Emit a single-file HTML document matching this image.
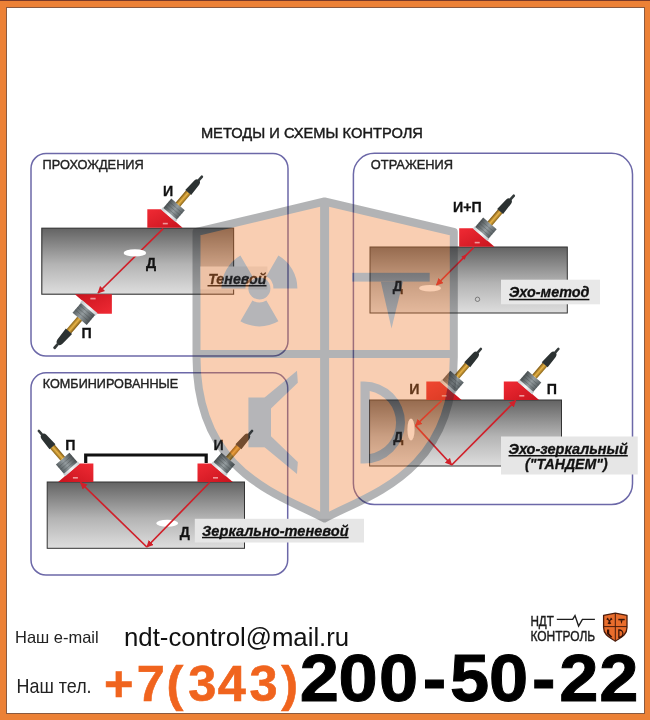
<!DOCTYPE html>
<html><head><meta charset="utf-8">
<style>
html,body{margin:0;padding:0;background:#fff;}
body{width:650px;height:720px;overflow:hidden;position:relative;}
svg{position:absolute;left:0;top:0;display:block;will-change:transform;}
text{font-family:"Liberation Sans",sans-serif;}

</style></head><body>
<svg id="main" width="650" height="720" viewBox="0 0 650 720">
<defs>
  <linearGradient id="bar" x1="0" y1="0" x2="0" y2="1">
    <stop offset="0" stop-color="#636363"/>
    <stop offset="0.55" stop-color="#b4b4b4"/>
    <stop offset="1" stop-color="#dedede"/>
  </linearGradient>
  <linearGradient id="wedgeG" x1="0" y1="0" x2="1" y2="1">
    <stop offset="0" stop-color="#f02a34"/>
    <stop offset="1" stop-color="#c8141e"/>
  </linearGradient>
  <linearGradient id="bodyG" x1="0" y1="0" x2="0" y2="1">
    <stop offset="0" stop-color="#4a5052"/>
    <stop offset="0.55" stop-color="#959da0"/>
    <stop offset="1" stop-color="#586063"/>
  </linearGradient>
  <linearGradient id="brassG" x1="0" y1="0" x2="0" y2="1">
    <stop offset="0" stop-color="#7a5410"/>
    <stop offset="0.5" stop-color="#e8b448"/>
    <stop offset="1" stop-color="#8a6418"/>
  </linearGradient>
  <linearGradient id="plateG" x1="0" y1="0" x2="0" y2="1">
    <stop offset="0" stop-color="#c9cfd2"/>
    <stop offset="0.5" stop-color="#f4f6f7"/>
    <stop offset="1" stop-color="#c0c6c9"/>
  </linearGradient>
  <g id="td">
    <polygon points="0,0 0,-18.5 13.8,-18.5 35.3,0" fill="url(#wedgeG)"/>
    <rect x="15.5" y="-5" width="5" height="1.6" fill="#f6b8b8" opacity="0.8"/>
    <g transform="translate(21.1,-12.2) rotate(-49.3)">
      <rect x="-0.3" y="-9.6" width="3" height="19.2" fill="url(#plateG)"/>
      <rect x="2.5" y="-8.9" width="12.3" height="17.8" fill="url(#bodyG)"/>
      <g stroke="#3a4042" stroke-width="0.5" opacity="0.6">
        <line x1="5" y1="-8.9" x2="5" y2="8.9"/><line x1="8" y1="-8.9" x2="8" y2="8.9"/><line x1="11" y1="-8.9" x2="11" y2="8.9"/>
      </g>
      <rect x="14.7" y="-3" width="16" height="6" fill="url(#brassG)"/>
      <path d="M30.4,-3.9 L43.5,-3.2 Q46.8,-2.8 46.8,0 Q46.8,2.8 43.5,3.2 L30.4,3.9 Z" fill="#2c3232"/>
      <rect x="46" y="-1.3" width="6.5" height="2.6" rx="1" fill="#343a3a"/>
    </g>
  </g>
  <marker id="arr" viewBox="0 0 10 10" refX="9" refY="5" markerWidth="4.2" markerHeight="4.2" orient="auto-start-reverse">
    <path d="M0,0 L10,5 L0,10 z" fill="#d0202a"/>
  </marker>
</defs>

<!-- frame -->
<rect x="0" y="0" width="650" height="720" fill="#ec8136"/>
<rect x="0" y="0" width="650" height="1" fill="#7a3a28"/>
<rect x="6" y="7" width="639" height="707" fill="#8a5a40"/>
<rect x="7" y="8" width="637" height="705" fill="#ffffff"/>

<!-- title -->
<text x="200.9" y="138.3" font-size="15.4" fill="#1a1a1a" stroke="#1a1a1a" stroke-width="0.45" textLength="222" lengthAdjust="spacingAndGlyphs">МЕТОДЫ И СХЕМЫ КОНТРОЛЯ</text>

<!-- panels -->
<g fill="none" stroke="#6c68a8" stroke-width="1.5">
  <rect x="31" y="153.5" width="257" height="202.5" rx="15" ry="15"/>
  <rect x="353.4" y="153.3" width="279.1" height="351.2" rx="21" ry="21"/>
  <rect x="31" y="372.8" width="256.7" height="202.2" rx="15" ry="15"/>
</g>
<g fill="#222" stroke="#222" stroke-width="0.4" font-size="13.4">
  <text x="42.6" y="169.3" textLength="101.2" lengthAdjust="spacingAndGlyphs">ПРОХОЖДЕНИЯ</text>
  <text x="370.8" y="169.2" textLength="82.3" lengthAdjust="spacingAndGlyphs">ОТРАЖЕНИЯ</text>
  <text x="42.8" y="388.4" textLength="135.4" lengthAdjust="spacingAndGlyphs">КОМБИНИРОВАННЫЕ</text>
</g>

<!-- ===== Panel 1 ===== -->
<rect x="41.8" y="228.2" width="191.8" height="66" fill="url(#bar)" stroke="#333" stroke-width="1.1"/>
<line x1="163.2" y1="228.6" x2="98" y2="293" stroke="#d0202a" stroke-width="1.7" marker-end="url(#arr)"/>
<ellipse cx="134.9" cy="252.9" rx="11.3" ry="3.6" fill="#fff"/>
<use href="#td" transform="translate(147.3,227.8)"/>
<use href="#td" transform="translate(111.9,294.2) rotate(180) scale(1.05)"/>
<rect x="200" y="266.5" width="67.4" height="23" fill="#ececec"/>
<g font-weight="bold" font-size="14.2" fill="#111" stroke="#111" stroke-width="0.3">
  <text x="162.9" y="195.8">И</text>
  <text x="81.6" y="338.3">П</text>
  <text x="146" y="267.5">Д</text>
</g>
<text x="208.2" y="283.5" font-size="14" font-weight="bold" font-style="italic" fill="#111" stroke="#111" stroke-width="0.3" textLength="58.3" lengthAdjust="spacingAndGlyphs">Теневой</text>
<rect x="207.5" y="285" width="59" height="1.5" fill="#111"/>

<!-- ===== Panel 2 top ===== -->
<rect x="370" y="247" width="197.3" height="66" fill="url(#bar)" stroke="#333" stroke-width="1"/>
<ellipse cx="430" cy="288.2" rx="11" ry="3.3" fill="#fff"/>
<circle cx="477.5" cy="299.3" r="2.2" fill="none" stroke="#666" stroke-width="0.8"/>
<line x1="473.7" y1="247.5" x2="436.5" y2="285" stroke="#d0202a" stroke-width="1.7" marker-end="url(#arr)"/>
<polygon points="467,254.2 464.6,259.8 461.3,256.5" fill="#d0202a"/>
<use href="#td" transform="translate(459.2,246.8)"/>
<g font-weight="bold" font-size="14.2" fill="#111" stroke="#111" stroke-width="0.3">
  <text x="453.1" y="212.3" textLength="28.6" lengthAdjust="spacingAndGlyphs">И+П</text>
  <text x="392.8" y="290.5">Д</text>
</g>
<rect x="501" y="279.7" width="99" height="24.6" fill="#e8e8e8"/>
<text x="509" y="297" font-size="14" font-weight="bold" font-style="italic" fill="#111" stroke="#111" stroke-width="0.3" textLength="80.4" lengthAdjust="spacingAndGlyphs">Эхо-метод</text>
<rect x="509" y="298.8" width="80.4" height="1.5" fill="#111"/>

<!-- ===== Panel 2 bottom ===== -->
<rect x="369.6" y="400" width="191.9" height="66" fill="url(#bar)" stroke="#333" stroke-width="1"/>
<ellipse cx="411" cy="429.4" rx="3.6" ry="11" fill="#fff"/>
<polyline points="441.8,400.5 415.5,425.7" fill="none" stroke="#d0202a" stroke-width="1.7" marker-end="url(#arr)"/>
<polyline points="415.5,425.7 451.7,465" fill="none" stroke="#d0202a" stroke-width="1.7" marker-end="url(#arr)"/>
<polyline points="451.7,465 515.7,400.5" fill="none" stroke="#d0202a" stroke-width="1.7" marker-end="url(#arr)"/>
<use href="#td" transform="translate(426.3,400)"/>
<use href="#td" transform="translate(503.8,400)"/>
<g font-weight="bold" font-size="14.2" fill="#111" stroke="#111" stroke-width="0.3">
  <text x="409.3" y="394">И</text>
  <text x="546.8" y="394">П</text>
  <text x="393.2" y="441.8">Д</text>
</g>
<rect x="501" y="436.5" width="136.7" height="38" fill="#e6e6e6"/>
<text x="508.5" y="453.8" font-size="14" font-weight="bold" font-style="italic" fill="#111" stroke="#111" stroke-width="0.3" textLength="119.3" lengthAdjust="spacingAndGlyphs">Эхо-зеркальный</text>
<rect x="508.5" y="455" width="119.3" height="1.5" fill="#111"/>
<text x="525" y="469.3" font-size="14" font-weight="bold" font-style="italic" fill="#111" stroke="#111" stroke-width="0.3" textLength="82.7" lengthAdjust="spacingAndGlyphs">("ТАНДЕМ")</text>

<!-- ===== Panel 3 ===== -->
<rect x="47.2" y="482" width="197.3" height="66.3" fill="url(#bar)" stroke="#333" stroke-width="1"/>
<ellipse cx="167.2" cy="523.3" rx="11" ry="3.5" fill="#fff"/>
<polyline points="209.6,482.5 146.8,547" fill="none" stroke="#d0202a" stroke-width="1.7" marker-end="url(#arr)"/>
<polyline points="146.8,547 80.5,482.5" fill="none" stroke="#d0202a" stroke-width="1.7" marker-end="url(#arr)"/>
<polyline points="85.7,463 85.7,455 206.2,455 206.2,463" fill="none" stroke="#111" stroke-width="3.2"/>
<use href="#td" transform="translate(93.4,482) scale(-1,1)"/>
<use href="#td" transform="translate(197.5,482)"/>
<g font-weight="bold" font-size="14.2" fill="#111" stroke="#111" stroke-width="0.3">
  <text x="65.2" y="449.7">П</text>
  <text x="213.4" y="449.5">И</text>
  <text x="179.7" y="537">Д</text>
</g>

<!-- label (under shield) -->
<rect x="194.8" y="518.8" width="169.2" height="23.7" fill="#e6e6e6"/>
<text x="202" y="535.8" font-size="14" font-weight="bold" font-style="italic" fill="#111" stroke="#111" stroke-width="0.3" textLength="146.6" lengthAdjust="spacingAndGlyphs">Зеркально-теневой</text>
<rect x="202" y="536.8" width="146.6" height="1.5" fill="#111"/>

<!-- ===== Shield watermark ===== -->
<g id="shield" opacity="0.36">
  <path d="M196.5,232 L324.5,201.5 L453.8,232 L453.8,357 C453.8,474 368,495 324.5,518.5 C281,495 196.5,474 196.5,357 Z" fill="#f17a2c" stroke="#2c3034" stroke-width="8" stroke-linejoin="round"/>
  <rect x="320.1" y="203" width="9" height="316" fill="#2c3034"/>
  <rect x="198" y="350" width="254" height="8" fill="#2c3034"/>
  <g fill="#34363e">
    <!-- radiation -->
    <circle cx="259.4" cy="288.4" r="11"/>
    <path d="M273.4,288.4 L297.4,288.4 A38,38 0 0 0 278.4,255.5 L266.4,276.3 A14,14 0 0 1 273.4,288.4 Z"/>
    <path d="M245.4,288.4 L221.4,288.4 A38,38 0 0 1 240.4,255.5 L252.4,276.3 A14,14 0 0 0 245.4,288.4 Z"/>
    <path d="M252.4,300.5 L240.4,321.3 A38,38 0 0 0 278.4,321.3 L266.4,300.5 A14,14 0 0 1 252.4,300.5 Z"/>
    <!-- T -->
    <rect x="352.1" y="272.8" width="77.6" height="8.8"/>
    <polygon points="380.8,281.5 403,281.5 391.5,328.6"/>
    <!-- K -->
    <rect x="248.4" y="397.5" width="22.6" height="49.8"/>
    <polygon points="264.6,397.5 297,370.7 297.8,382.7 271,408.5"/>
    <polygon points="264.6,447.3 297,474.1 297.8,462.1 271,436.3"/>
    <!-- D -->
    <path fill-rule="evenodd" d="M360.5,381.6 L364,381.6 A41,41 0 0 1 364,463.6 L360.5,463.6 Z M369.7,391.1 A32,32 0 0 1 369.7,454.1 Z"/>
  </g>
</g>

<!-- contacts -->
<text x="15" y="642.7" font-size="16.5" fill="#222" textLength="83.7" lengthAdjust="spacingAndGlyphs">Наш e-mail</text>
<text x="16.6" y="692.5" font-size="21" fill="#222" textLength="75" lengthAdjust="spacingAndGlyphs">Наш тел.</text>
<text x="124" y="645.8" font-size="25.5" fill="#111" textLength="225.2" lengthAdjust="spacingAndGlyphs">ndt-control@mail.ru</text>
<text x="104.1 136.8 166.5 188.2 217.8 249.6 281.3" y="700.9" font-size="50.5" font-weight="bold" fill="#f0641e" stroke="#f0641e" stroke-width="0.6">+7(343)</text>
<text transform="scale(1.06,1)" x="282.69 319.45 357.47 398.89 424.49 461.25 501.91 527.6 565.34" y="700.7" font-size="66.5" font-weight="bold" fill="#000" stroke="#000" stroke-width="0.95">200-50-22</text>

<!-- logo -->
<g fill="#1e1e1e" stroke="#1e1e1e" stroke-width="0.45">
<text x="530.4" y="626" font-size="14.5" textLength="23.5" lengthAdjust="spacingAndGlyphs">НДТ</text>
<text x="530.4" y="640.5" font-size="14.5" textLength="64.8" lengthAdjust="spacingAndGlyphs">КОНТРОЛЬ</text>
</g>
<polyline points="556.8,619.4 572.7,619.4 575,615.6 578.6,626 582.4,619.4 594.9,619.4" fill="none" stroke="#1e1e1e" stroke-width="1.4" stroke-linejoin="miter"/>
<g>
  <path d="M603.6,615.3 L615.3,613.2 L627,615.3 L627,627.5 C627,635.5 620,637.8 615.3,641.2 C610.6,637.8 603.6,635.5 603.6,627.5 Z" fill="#e96d2c" stroke="#4a1c0c" stroke-width="1.3" stroke-linejoin="round"/>
  <line x1="615.3" y1="613.5" x2="615.3" y2="641" stroke="#4a1c0c" stroke-width="1"/>
  <line x1="603.6" y1="626.6" x2="627" y2="626.6" stroke="#4a1c0c" stroke-width="1"/>
  <g fill="#3a1408">
    <circle cx="609.4" cy="620.8" r="1.1"/>
    <path d="M609.4,620.8 L606.3,619.6 A3.6,3.6 0 0 1 607.9,617.4 Z"/>
    <path d="M609.4,620.8 L610.9,617.4 A3.6,3.6 0 0 1 612.5,619.6 Z"/>
    <path d="M609.4,620.8 L611.3,623.6 A3.6,3.6 0 0 1 607.5,623.6 Z"/>
    <rect x="618.3" y="618.8" width="6.4" height="1.5"/>
    <polygon points="620.4,620.2 622.6,620.2 621.5,624"/>
    <path d="M607,629.5 L609.2,629.5 L609.2,633.5 L612.3,636.8 L611,637.8 L607,634 Z"/>
    <path d="M618.2,629.3 L619.3,629.3 A4.2,4.3 0 0 1 619.3,637.9 L618.2,637.9 Z M619.5,630.8 L619.5,636.4 A2.8,2.8 0 0 0 619.5,630.8 Z" fill-rule="evenodd"/>
  </g>
</g>
</svg>
</body></html>
